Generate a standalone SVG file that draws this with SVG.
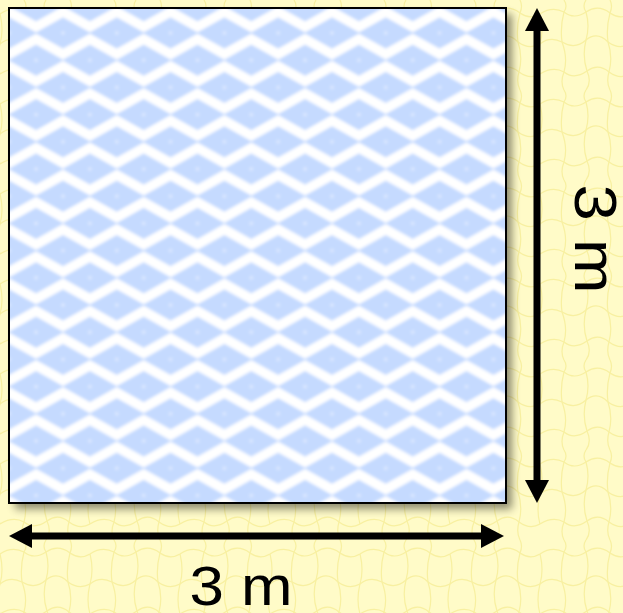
<svg xmlns="http://www.w3.org/2000/svg" width="623" height="613" viewBox="0 0 623 613">
  <defs>
    <style>
      .crack { fill: none; stroke: #f8f0a0; stroke-width: 1.2; stroke-linejoin: round; }
      .dia { fill: #c5daff; }
      .dot { fill: #dbe8ff; }
      .shaft { stroke: #000; stroke-width: 7; fill: none; }
      .label { font-family: "Liberation Sans", Arial, sans-serif; fill: #000; }
    </style>
    <pattern id="crackle" patternUnits="userSpaceOnUse" width="90" height="90">
      <rect width="90" height="90" fill="#fffbc8"/>
      <path class="crack" d="M0,14 Q12,6 24,12 Q34,20 46,12 Q58,4 70,13 Q80,20 90,14"/>
      <path class="crack" d="M0,44 Q10,36 22,42 Q35,50 46,40 Q57,31 68,42 Q79,50 90,44"/>
      <path class="crack" d="M0,74 Q13,66 24,72 Q34,80 47,71 Q58,63 69,72 Q80,80 90,74"/>
      <path class="crack" d="M24,12 Q20,27 22,42 M46,12 Q50,26 46,40 M70,13 Q66,28 68,42 M0,14 Q4,30 0,44 M90,14 Q94,30 90,44"/>
      <path class="crack" d="M22,42 Q28,58 24,72 M46,40 Q42,56 47,71 M68,42 Q73,57 69,72 M0,44 Q-4,60 0,74 M90,44 Q86,60 90,74"/>
      <path class="crack" d="M24,72 Q20,82 24,90 M47,71 Q52,82 46,90 M69,72 Q66,82 70,90 M24,0 Q28,6 24,12 M46,0 Q42,6 46,12 M70,0 Q73,6 70,13"/>
    </pattern>
    <pattern id="diamonds" patternUnits="userSpaceOnUse" x="63" y="33" width="53.8" height="54.4">
      <rect width="53.8" height="54.4" fill="#ffffff"/>
      <path class="dia" d="M-28,0 L0,-15.5 L28,0 L0,15.5 Z M25.8,0 L53.8,-15.5 L81.8,0 L53.8,15.5 Z M-28,54.4 L0,38.9 L28,54.4 L0,69.9 Z M25.8,54.4 L53.8,38.9 L81.8,54.4 L53.8,69.9 Z M-1.1,27.2 L26.9,11.7 L54.9,27.2 L26.9,42.7 Z"/>
      <circle class="dot" cx="0" cy="0" r="2"/>
      <circle class="dot" cx="53.8" cy="0" r="2"/>
      <circle class="dot" cx="0" cy="54.4" r="2"/>
      <circle class="dot" cx="53.8" cy="54.4" r="2"/>
      <circle class="dot" cx="26.9" cy="27.2" r="2"/>
    </pattern>
    <filter id="soft" x="-2%" y="-2%" width="104%" height="104%">
      <feGaussianBlur stdDeviation="1.7"/>
    </filter>
    <filter id="shadow" x="-10%" y="-10%" width="125%" height="125%">
      <feGaussianBlur in="SourceAlpha" stdDeviation="4"/>
      <feOffset dx="6" dy="6" result="b"/>
      <feComponentTransfer in="b" result="s"><feFuncA type="linear" slope="0.45"/></feComponentTransfer>
      <feMerge><feMergeNode in="s"/></feMerge>
    </filter>
    <clipPath id="sqclip"><rect x="9" y="8" width="497" height="495"/></clipPath>
    <marker id="head" viewBox="0 0 23 24" markerWidth="23" markerHeight="24" refX="11" refY="12" markerUnits="userSpaceOnUse" orient="auto-start-reverse">
      <path d="M0,0 L23,12 L0,24 Z" fill="#000"/>
    </marker>
  </defs>

  <rect id="background" x="0" y="0" width="623" height="613" fill="url(#crackle)"/>

  <g id="square">
    <rect x="9" y="8" width="497" height="495" fill="#000" filter="url(#shadow)"/>
    <g clip-path="url(#sqclip)">
      <rect x="4" y="3" width="507" height="505" fill="url(#diamonds)" filter="url(#soft)"/>
    </g>
    <rect x="9" y="8" width="497" height="495" fill="none" stroke="#000" stroke-width="2"/>
  </g>

  <g id="connectors">
    <line class="shaft" x1="537" y1="20" x2="537" y2="491" marker-start="url(#head)" marker-end="url(#head)"/>
    <line class="shaft" x1="21" y1="536" x2="492" y2="536" marker-start="url(#head)" marker-end="url(#head)"/>
  </g>

  <g id="label-width">
    <text class="label" x="241" y="605" font-size="56" text-anchor="middle" textLength="103" lengthAdjust="spacingAndGlyphs">3 m</text>
  </g>
  <g id="label-height">
    <text class="label" transform="translate(575,239) rotate(90)" x="0" y="0" font-size="59" text-anchor="middle" textLength="109" lengthAdjust="spacingAndGlyphs">3 m</text>
  </g>
</svg>
